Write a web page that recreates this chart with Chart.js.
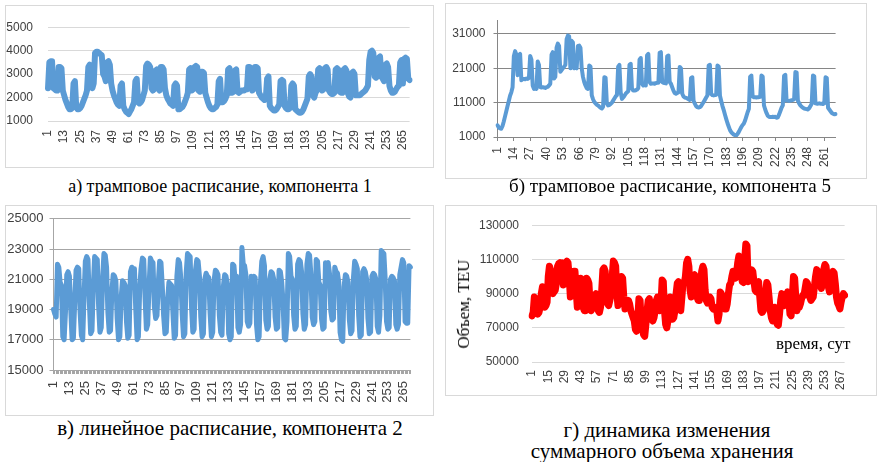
<!DOCTYPE html>
<html>
<head>
<meta charset="utf-8">
<script src="https://cdn.jsdelivr.net/npm/chart.js@4.4.1/dist/chart.umd.min.js"></script>
<style>
  body { margin: 0; background: #fff; width: 877px; height: 462px; position: relative; overflow: hidden; }
  .box { position: absolute; border: 1px solid #d9d9d9; box-sizing: border-box; }
  .wrap { position: absolute; }
  .cap { position: absolute; font-family: 'Liberation Serif', serif; font-size: 18px; color: #000; white-space: nowrap; transform: translateX(-50%); }
  .note { position: absolute; font-family: 'Liberation Serif', serif; font-size: 17px; color: #000; white-space: nowrap; }
</style>
</head>
<body>
<div class="box" style="left:5px;top:5px;width:429px;height:163px"></div>
<div class="box" style="left:445px;top:3px;width:422px;height:176px"></div>
<div class="box" style="left:5px;top:205px;width:429px;height:211px"></div>
<div class="box" style="left:445px;top:205px;width:432px;height:191px"></div>

<div class="wrap" style="left:5px;top:5px;width:428px;height:156px"><canvas id="chA"></canvas></div>
<div class="wrap" style="left:446px;top:5px;width:410px;height:172px"><canvas id="chB"></canvas></div>
<div class="wrap" style="left:5px;top:205px;width:428px;height:205px"><canvas id="chC"></canvas></div>
<div class="wrap" style="left:445px;top:205px;width:422px;height:192px"><canvas id="chD"></canvas></div>

<div class="cap" style="left:220px;top:176px">а) трамповое расписание, компонента 1</div>
<div class="cap" style="left:670px;top:175px;font-size:19px">б) трамповое расписание, компонента 5</div>
<div class="cap" style="left:230px;top:416px;font-size:21px">в) линейное расписание, компонента 2</div>
<div class="cap" style="left:667px;top:418px;font-size:21px">г) динамика изменения</div>
<div class="cap" style="left:662px;top:439px;font-size:21px">суммарного объема хранения</div>
<div class="note" style="left:464px;top:304px;transform:translate(-50%,-50%) rotate(-90deg)">Объем, TEU</div>
<div class="note" style="left:776px;top:334px">время, сут</div>

<script>
// номера суток (категории оси X)
const days = Array.from({ length: 270 }, (_, i) => String(i + 1));

// а) трамповое расписание, компонента 1
const comp1 = [
  2400,3500,3550,3550,2400,2350,2300,2300,3300,3300,
  3250,2300,2100,1900,1750,1600,1500,1500,1550,2600,
  2700,1600,1500,1500,1550,1650,1800,1950,2100,2300,
  3300,3400,3350,2400,2600,3900,3950,3950,3900,3850,
  3800,3000,2900,2700,3500,3550,3400,2600,2300,2100,
  1950,1800,1700,1650,2500,2600,1650,1500,1400,1350,
  1300,1400,1500,1650,1800,2700,2800,1800,1750,1800,
  1900,2100,2300,3350,3450,3400,3300,2400,2300,2350,
  3150,3200,2400,2300,3300,3300,3200,2400,2100,1950,
  1850,1750,1700,1650,2500,2600,2500,1500,1500,1550,
  1600,1700,1850,2000,2200,3200,3250,2300,2350,3300,
  3350,3300,2300,2250,3100,3100,3050,2200,2000,1800,
  1650,1550,1500,1500,1550,1600,1700,2700,2800,1800,
  1800,1850,1950,2100,3200,3250,2200,2200,2250,3150,
  3200,2250,2200,2250,2300,2300,2300,2350,2350,3300,
  3300,3250,2300,2350,3300,3300,3250,2200,2100,2000,
  1950,1900,1950,2800,2900,1650,1550,1500,1450,1450,
  1500,1600,1700,2700,2750,2700,1650,1550,1500,1500,
  1550,2500,2600,2500,1500,1450,1400,1350,1350,1400,
  1500,1650,1800,1950,2900,3000,2900,2100,2000,2200,
  2300,3200,3250,3200,2300,2350,3250,3300,3200,2300,
  2200,2150,2150,2200,3200,3250,3200,2250,2200,2200,
  3200,3250,3150,2200,2050,2000,3050,3100,3000,2100,
  2100,2100,2100,2150,2200,2250,2300,2400,2500,3600,
  3950,4000,3900,2900,2850,2900,3700,3750,2900,2800,
  2700,3400,3450,3300,2500,2300,2200,2200,2250,2350,
  2450,2500,3500,3600,2600,3650,3700,3650,2800,2750
];

// б) трамповое расписание, компонента 5
const comp5 = [
  4400,3800,3500,3400,4200,5500,7000,8500,10000,11500,
  13000,14000,15500,24500,26000,25000,19000,24800,25200,17500,
  17800,17900,17800,18000,17900,18200,24600,23500,16000,15000,
  15200,15000,23000,22000,15500,15400,15500,15400,15300,15500,
  15600,16000,16500,25000,25700,18000,18500,27000,28200,27500,
  20000,20500,21000,21500,22000,29500,30500,30300,21000,29000,
  28500,21000,21200,21000,27500,27600,27000,21000,18500,17000,
  16000,15200,15000,21800,21500,13100,12000,11200,10800,10400,
  10200,9800,9500,9300,9800,18400,18300,10800,10200,10300,
  10600,11000,11600,12200,12800,13200,21500,22000,14000,12100,
  12500,13000,13600,14000,14300,22000,22300,15000,14500,14500,
  14600,14800,15200,23500,24000,16500,16000,16200,16000,24800,
  25200,17000,16500,16600,16600,16500,16700,16800,16800,25500,
  25700,17000,16800,16700,16600,24500,24700,17000,16500,15500,
  14500,13800,13600,13800,14000,21400,21000,13600,12800,12500,
  12400,12200,12000,11800,18200,18400,11500,10700,10000,9700,
  9600,9700,10000,10600,11200,11800,12500,13100,21800,22000,
  13500,13200,13100,13200,13300,21800,21500,13000,11500,10000,
  8800,7500,6200,5000,4000,3000,2400,2000,1700,1500,
  1500,1900,2500,3200,3900,4500,4900,5800,7000,8200,
  9200,18500,18900,12800,12600,12600,12500,12600,12600,12700,
  18900,18600,10200,9000,8000,7200,6900,6800,6800,6900,
  6800,6900,6600,6700,7500,8500,9500,10200,18800,19100,
  11600,11600,11500,11600,11700,11800,12000,19900,19800,11600,
  10800,10200,9800,9500,9300,9200,9100,9000,9400,10000,
  10700,18900,18700,10800,10700,10700,10800,10700,10700,10600,
  10800,18400,18200,9500,9000,8500,8000,7800,7600,7700
];

// в) линейное расписание, компонента 2
const comp2 = [
  19000,18700,18500,22000,21800,20800,20600,
  17200,17000,18800,21300,21500,21200,19000,
  17000,17100,19500,21600,21800,21700,18900,
  17300,17000,19800,22200,22500,22300,19500,
  17400,17600,20500,22500,22400,22300,19200,
  17500,17800,21000,22700,22600,21800,18800,
  17500,17600,20200,21300,21200,20900,18400,
  17000,17200,19800,20900,20800,20600,18200,
  17100,17300,21500,21800,21700,21700,19000,
  17000,17200,20500,21700,22400,22300,19800,
  17700,18000,20500,22400,22200,22100,19200,
  18400,18600,20800,22200,22100,20500,18600,
  17400,17500,19600,20800,20700,20600,18800,
  17100,17300,21200,22300,22100,21000,18700,
  17200,17400,21400,22700,22600,22500,19200,
  17500,17700,21600,22300,22200,21200,18500,
  17200,17400,21000,21400,21200,21100,18800,
  17200,17500,20900,21600,21500,21300,18600,
  17500,17300,20500,21300,21200,20700,17400,
  17000,17200,22000,21900,20800,21200,17800,
  17500,18000,23100,22000,21900,21300,18200,
  17900,18100,21200,21000,21200,21100,18000,
  17000,17200,20800,22200,22500,21900,18300,
  17700,17900,21000,21500,21400,21000,18500,
  17700,17800,21600,21500,20800,19500,17100,
  17000,18200,22700,22500,21200,21000,18600,
  17700,17900,22000,22300,22200,21500,18700,
  17700,18000,22000,22700,22600,21300,18500,
  18000,18200,22300,22200,20800,20600,18400,
  17700,17800,22100,22000,22100,21400,18900,
  18300,18400,21800,21500,21400,20800,17500,
  17000,16900,20500,21300,21200,20800,18300,
  17400,17600,21000,22200,22000,21700,18600,
  17200,17300,21500,21700,21500,21000,18400,
  17400,17500,21200,21400,21300,21000,17900,
  17500,18600,22900,22800,22700,21000,18200,
  17700,17800,21000,21200,21100,20900,18000,
  17700,18000,21300,21800,22300,22100,18200,
  18100,18100,21900,21800
];

// г) суммарный объем хранения, TEU
const total = [
  77000,79000,88000,87000,81000,78000,79000,82000,90000,94000,
  92000,82000,83000,85000,100000,106000,104000,91000,90000,91000,
  92000,96000,106000,107500,108000,107000,108000,95000,96000,108000,
  109000,108000,100000,88000,89000,91000,103000,103000,92000,82000,
  83000,88000,99000,97000,82000,80000,80000,99000,98000,96000,
  84000,80000,82000,86000,89000,90000,88000,80000,79000,82000,
  92000,104000,105000,103000,90000,84000,83000,86000,90000,100000,
  109000,108000,106000,90000,83000,85000,92000,100000,99000,88000,
  81000,82000,84000,86000,84000,80000,78000,76000,74000,69000,
  68000,75000,87000,86000,73000,70000,66000,65000,72000,80000,
  86000,87000,80000,75000,74000,76000,80000,86000,88000,86000,
  80000,84000,98000,97000,80000,72000,70000,74000,82000,88000,
  86000,75000,76000,80000,90000,96000,97000,82000,80000,88000,
  96500,96000,100000,108000,110000,106000,92000,88000,90000,100000,
  101000,95000,88000,86000,86000,94000,103000,106000,104000,92000,
  86000,84500,85000,88000,87000,82000,81000,82000,81000,80000,
  74000,78000,91000,90000,86000,82000,81000,81000,84000,90000,
  95000,96000,100000,103000,103000,99000,102000,108000,112000,111000,
  100000,97000,96500,110000,119000,118000,97000,103000,104000,104000,
  103000,97000,92000,91000,96000,97000,88000,80000,79000,80000,
  84000,90000,96500,95000,88000,80000,76000,74000,77000,82000,
  78000,72000,71500,78000,86000,90000,85000,83000,84000,88000,
  91000,86000,78000,77000,88000,100000,99000,88000,80000,83000,
  82000,84000,87000,89000,89000,93000,97000,96000,92000,88000,
  86000,87000,88000,94000,100000,104000,103000,97000,95500,93000,
  96000,104000,107000,106000,100000,94000,91000,94000,100000,103000,
  102000,96000,88000,84500,83000,81000,85000,88000,90000,89000
];

// подписи осей
const ticksA = [1000, 2000, 3000, 4000, 5000];
const ticksB = [1000, 11000, 21000, 31000];
const ticksC = [15000, 17000, 19000, 21000, 23000, 25000];
const ticksD = [50000, 70000, 90000, 110000, 130000];
const labelStepA = 12, labelStepB = 13, labelStepC = 12, labelStepD = 14;

const tickColor = '#404040';

function makeChart(id, data, p) {
  const font = { family: "'Liberation Sans', Arial, sans-serif", size: p.fontSize };
  new Chart(document.getElementById(id), {
    type: 'line',
    data: {
      labels: days,
      datasets: [{
        data: data,
        borderColor: p.color,
        borderWidth: p.lineWidth,
        borderJoinStyle: 'round',
        borderCapStyle: 'round',
        pointRadius: 0,
        tension: 0,
        fill: false
      }]
    },
    options: {
      responsive: true,
      maintainAspectRatio: false,
      animation: false,
      layout: { padding: { top: p.padTop, right: p.padRight, left: 0, bottom: 0 } },
      plugins: { legend: { display: false }, tooltip: { enabled: false } },
      scales: {
        x: {
          type: 'category',
          afterFit: s => { s.height = p.xHeight; },
          border: { display: p.xBorder, color: p.axisColor },
          grid: {
            display: p.xTicks !== 'none',
            drawOnChartArea: false,
            drawTicks: p.xTicks !== 'none',
            tickLength: 4,
            tickColor: ctx => (p.xTicks === 'all' || ctx.index % p.step === 0) ? p.axisColor : 'rgba(0,0,0,0)'
          },
          ticks: {
            autoSkip: false,
            minRotation: 90,
            maxRotation: 90,
            padding: p.xPad,
            font: font,
            color: tickColor,
            callback: function (v, i) { return i % p.step === 0 ? this.getLabelForValue(v) : ''; }
          }
        },
        y: {
          min: p.yMin,
          max: p.yMax,
          afterFit: s => { s.width = p.yWidth; },
          afterBuildTicks: s => { s.ticks = p.yTicks.map(v => ({ value: v })); },
          border: { display: p.yBorder, color: p.axisColor },
          grid: { color: p.gridColor, lineWidth: 1, drawTicks: p.yBorder, tickLength: 4, tickColor: p.axisColor },
          ticks: { padding: p.yPad, font: font, color: tickColor, callback: v => String(v) }
        }
      }
    }
  });
}

makeChart('chA', comp1, {
  color: '#5B9BD5', lineWidth: 6, padTop: 14, padRight: 2, xHeight: 40, yWidth: 43, fontSize: 12,
  yMin: 1000, yMax: 5000, yTicks: ticksA,
  step: labelStepA, xTicks: 'none', xBorder: false, yBorder: false, xPad: 9, yPad: 15,
  gridColor: '#d9d9d9', axisColor: '#d9d9d9'
});

makeChart('chB', comp5, {
  color: '#5B9BD5', lineWidth: 4, padTop: 15, padRight: 5, xHeight: 40, yWidth: 51.5, fontSize: 12,
  yMin: 1000, yMax: 35000, yTicks: ticksB,
  step: labelStepB, xTicks: 'step', xBorder: true, yBorder: true, xPad: 6, yPad: 8,
  gridColor: '#868686', axisColor: '#868686'
});

makeChart('chC', comp2, {
  color: '#5B9BD5', lineWidth: 5, padTop: 10, padRight: 2, xHeight: 40, yWidth: 48.5, fontSize: 13,
  yMin: 15000, yMax: 25000, yTicks: ticksC,
  step: labelStepC, xTicks: 'all', xBorder: true, yBorder: true, xPad: 7, yPad: 6,
  gridColor: '#a6a6a6', axisColor: '#a6a6a6'
});

makeChart('chD', total, {
  color: '#FF0000', lineWidth: 7, padTop: 14, padRight: 5, xHeight: 35, yWidth: 87, fontSize: 12,
  yMin: 50000, yMax: 130000, yTicks: ticksD,
  step: labelStepD, xTicks: 'none', xBorder: false, yBorder: false, xPad: 8, yPad: 13,
  gridColor: '#d9d9d9', axisColor: '#d9d9d9'
});
</script>
</body>
</html>
